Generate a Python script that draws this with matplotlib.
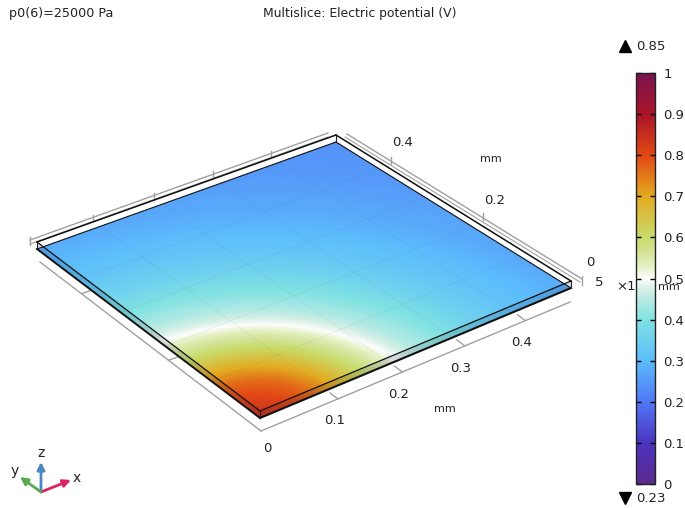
"""
Multislice of electric potential on a thin plate, corner contact at the origin.
"""
import numpy as np
import matplotlib
matplotlib.use('Agg')
import matplotlib.pyplot as plt
from matplotlib.cm import ScalarMappable
from matplotlib.colors import LinearSegmentedColormap, Normalize
from matplotlib.patches import Polygon, FancyArrowPatch

W, H = 685, 508
OUT_FILE = 'out.png'

radius_mm = [0.0, 0.02, 0.04, 0.055, 0.08, 0.10, 0.135, 0.17, 0.19, 0.21,
             0.225, 0.25, 0.30, 0.35, 0.40, 0.50, 0.60, 0.72]
potential_v = [0.84, 0.83, 0.81, 0.795, 0.765, 0.725, 0.65, 0.575, 0.54, 0.50,
               0.475, 0.44, 0.395, 0.35, 0.32, 0.275, 0.25, 0.235]

cbar_levels = [0.0, 0.1, 0.2, 0.3, 0.4, 0.47, 0.5, 0.53, 0.56, 0.6, 0.7, 0.8, 0.9, 1.0]
cbar_colors = ['#5a2a8c', '#4b34c0', '#5078f6', '#5cbcfc', '#80e2e2', '#d0eee4', '#fdfdfd',
               '#e4f0c0', '#d4e49c', '#c8dc6c', '#e2aa20', '#e24814', '#aa1428', '#781450']
cbar_ticks = [0, 0.1, 0.2, 0.3, 0.4, 0.5, 0.6, 0.7, 0.8, 0.9, 1]
cbar_labels = ['0', '0.1', '0.2', '0.3', '0.4', '0.5', '0.6', '0.7', '0.8', '0.9', '1']

x_ticks = [0.1, 0.2, 0.3, 0.4]
y_ticks = [0.2, 0.4]

SIZE = 0.5
# plate corners on screen (bottom face): (0,0), (L,0), (L,L), (0,L)
CORNERS = np.array([[260, 418], [571, 288], [336, 142], [37, 249]], float)
LIFT = 7  # px, plate thickness on screen


def fit_homography(src, dst):
    A, b = [], []
    for (x, y), (u, v) in zip(src, dst):
        A.append([x, y, 1, 0, 0, 0, -u * x, -u * y])
        A.append([0, 0, 0, x, y, 1, -v * x, -v * y])
        b += [u, v]
    return np.append(np.linalg.solve(np.array(A), np.array(b)), 1).reshape(3, 3)


HMAT = fit_homography([(0, 0), (SIZE, 0), (SIZE, SIZE), (0, SIZE)], CORNERS)


def proj(x, y):
    x, y = np.asarray(x, float), np.asarray(y, float)
    d = HMAT[2, 0] * x + HMAT[2, 1] * y + 1
    return (HMAT[0, 0] * x + HMAT[0, 1] * y + HMAT[0, 2]) / d, (HMAT[1, 0] * x + HMAT[1, 1] * y + HMAT[1, 2]) / d


def unproj(u, v):
    p = np.linalg.solve(HMAT, [u, v, 1])
    return p[0] / p[2], p[1] / p[2]


fig = plt.figure(figsize=(W / 100, H / 100), dpi=100)
ax = fig.add_axes([0, 0, 1, 1])
ax.set_xlim(0, W)
ax.set_ylim(H, 0)
ax.axis('off')

cmap = LinearSegmentedColormap.from_list('thermal', list(zip(cbar_levels, cbar_colors)), N=1024)
norm = Normalize(0, 1)

# ---- plate surface ----
theta = np.linspace(0, np.pi / 2, 91)
rr, tt = np.meshgrid(radius_mm, theta)
vv = np.tile(potential_v, (len(theta), 1))
px, py = proj(rr * np.cos(tt), rr * np.sin(tt))
plate = Polygon(CORNERS, closed=True, transform=ax.transData, fc='none', ec='none')
ax.add_patch(plate)
field = ax.contourf(px, py, vv, levels=np.linspace(0.2, 0.9, 351), cmap=cmap, norm=norm,
                    antialiased=False, zorder=1)
field.set_clip_path(plate)

# faint mesh lines on the plate
for t in [0.1, 0.2, 0.3, 0.4]:
    for a, b in [((t, t), (0, SIZE)), ((0, SIZE), (t, t))]:
        u, v = proj(a, b)
        ax.plot(u, v, color='#304060', lw=0.7, alpha=0.06, zorder=2)

# darker side faces
top = CORNERS - [0, LIFT]
for i, j in [(3, 0), (0, 1)]:
    side = [top[i], top[j], CORNERS[j], CORNERS[i]]
    ax.add_patch(Polygon(side, closed=True, fc='#102040', ec='none', alpha=0.14, zorder=2))

# ---- box outline ----
for i, j, lw in [(0, 1, 0.9), (1, 2, 1.1), (2, 3, 1.1), (3, 0, 0.9)]:
    ax.plot([top[i, 0], top[j, 0]], [top[i, 1], top[j, 1]], color='#111111', lw=lw, zorder=4)
for i, j, lw in [(0, 1, 1.5), (1, 2, 0.8), (2, 3, 0.8), (3, 0, 1.4)]:
    ax.plot(CORNERS[[i, j], 0], CORNERS[[i, j], 1], color='#111111', lw=lw, zorder=3)
for i in range(4):
    ax.plot([top[i, 0], CORNERS[i, 0]], [top[i, 1], CORNERS[i, 1]], color='#222222', lw=0.8, zorder=4)

# ---- gray axis frame ----
GRAY = '#a0a0a0'


def axis_line(p0, p1, ticks, along, tick_dir, shift=(0, 0), lw=1.0):
    a, b = np.array(unproj(*p0)), np.array(unproj(*p1))
    ax.plot([p0[0], p1[0]], [p0[1], p1[1]], color=GRAY, lw=lw, zorder=0.5)
    for t in ticks:
        f = (t - a[along]) / (b[along] - a[along])
        m = a + f * (b - a)
        u, v = proj(m[0], m[1])
        u, v = u + shift[0], v + shift[1]
        ax.plot([u, u + tick_dir[0]], [v, v + tick_dir[1]], color=GRAY, lw=1.0, zorder=0.5)


axis_line((261, 431), (570, 302), x_ticks, 0, (-8, -6))
axis_line((261, 431), (40, 262), y_ticks, 1, (10, -3.5), shift=(13, 10))
axis_line((30, 240), (328, 133), x_ticks, 0, (0, -6), shift=(3, 2))
axis_line((30, 244), (328, 137), [], 0, (0, 0), lw=0.8)
axis_line((347, 134), (582, 279), y_ticks, 1, (0, -7), shift=(-4, 0))
axis_line((345, 137), (580, 282), [], 1, (0, 0), lw=0.8)
ax.plot([30, 30], [237, 245], color=GRAY, lw=1.0, zorder=0.5)
ax.plot([582, 582], [276, 285], color=GRAY, lw=1.0, zorder=0.5)

# ---- labels ----
FS = 9.5
TC = '#222222'
ax.text(9, 13, 'p0(6)=25000 Pa', fontsize=9.2, color=TC, va='center', ha='left')
ax.text(360, 13, 'Multislice: Electric potential (V)', fontsize=8.9, color=TC, va='center', ha='center')

for label, xp, yp in [('0', 267, 448), ('0.1', 335, 421), ('0.2', 399, 394), ('0.3', 461, 368),
                      ('0.4', 522, 343), ('0.4', 403, 143), ('0.2', 495, 200), ('0', 590, 262),
                      ('5', 599, 283), ('\u00d71', 626, 286)]:
    ax.text(xp, yp, label, fontsize=FS, color=TC, ha='center', va='center', zorder=6)
for xp, yp in [(491, 159), (445, 409), (669, 287)]:
    ax.text(xp, yp, 'mm', fontsize=8, color=TC, ha='center', va='center', zorder=7)

# ---- min / max markers ----
ax.plot(625, 46, marker='^', color='black', ms=9, ls='none')
ax.plot(625, 498, marker='v', color='black', ms=9, ls='none')
ax.text(636, 47, '0.85', fontsize=FS, color=TC, ha='left', va='center')
ax.text(636, 499, '0.23', fontsize=FS, color=TC, ha='left', va='center')

# ---- xyz triad ----
ORIGIN = (41, 492)
for tip, color in [((41, 462), '#4a86c0'), ((71, 480), '#dc2464'), ((20, 477), '#5aaa50')]:
    ax.add_patch(FancyArrowPatch(ORIGIN, tip, arrowstyle='-|>', mutation_scale=11, color=color,
                                 lw=2.0, shrinkA=0, shrinkB=0, zorder=5))
for label, xp, yp in [('z', 41.5, 453), ('x', 77, 478), ('y', 15, 471)]:
    ax.text(xp, yp, label, fontsize=FS + 0.5, color=TC, ha='center', va='center')

# ---- colorbar ----
cax = fig.add_axes([636 / W, 1 - 484 / H, 19 / W, 411 / H])
cb = fig.colorbar(ScalarMappable(norm=norm, cmap=cmap), cax=cax, ticks=cbar_ticks)
cb.ax.set_yticklabels(cbar_labels)
cb.ax.tick_params(which='major', left=True, right=True, direction='in', length=3.5, width=1.0,
                  labelsize=FS, labelcolor=TC, pad=6)
cb.outline.set_edgecolor('#222222')
cb.outline.set_linewidth(1.0)

fig.savefig(OUT_FILE, dpi=100)
plt.close()
